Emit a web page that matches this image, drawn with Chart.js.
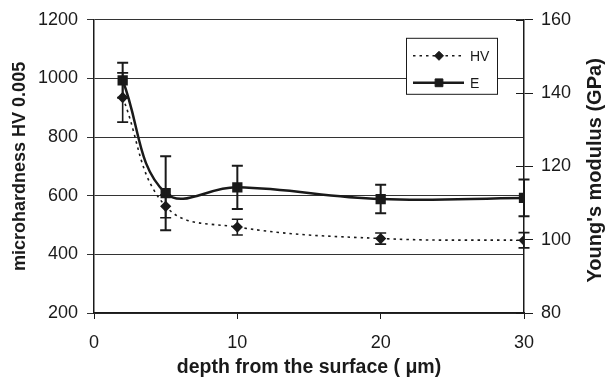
<!DOCTYPE html>
<html>
<head>
<meta charset="utf-8">
<script src="https://cdn.jsdelivr.net/npm/chart.js@4/dist/chart.umd.min.js"></script>
<style>
  html,body{margin:0;padding:0;background:#fff}
  #wrap{width:615px;height:382px}
</style>
</head>
<body>
<div id="wrap"><canvas id="c" width="615" height="382"></canvas></div>
<script>
// ── data ──────────────────────────────────────────────────────────────────
const depth    = [2, 5, 10, 20, 30];               // µm
const hv       = [935, 564, 493, 454, 448];        // HV 0.005
const hvErr    = [84, 39, 27, 19, 26];
const youngE   = [143.5, 112.7, 114.3, 111.1, 111.4]; // GPa
const youngErr = [4.8, 10.1, 5.9, 3.9, 5.0];

const xTitle     = 'depth from the surface ( μm)';
const leftTitle  = 'microhardness HV 0.005';
const rightTitle = "Young's modulus (GPa)";

const INK  = '#1a1a1a';
const GRID = '#333';
const FONT = "'Liberation Sans', Arial, sans-serif";

const pts = (ys)=>depth.map((x,i)=>({x, y:ys[i]}));

// error bars, drawn through the dataset's own axes
const errorBars = {
  id:'errorBars',
  afterDatasetsDraw(chart){
    const ctx=chart.ctx, xs=chart.scales.x;
    chart.data.datasets.forEach(ds=>{
      if(!ds.errors) return;
      const ys=chart.scales[ds.yAxisID];
      ctx.save();
      ctx.strokeStyle=INK; ctx.lineWidth=ds.errWidth; ctx.setLineDash([]);
      ds.data.forEach((p,i)=>{
        const e=ds.errors[i];
        const px=xs.getPixelForValue(p.x);
        const hi=ys.getPixelForValue(p.y+e), lo=ys.getPixelForValue(p.y-e);
        ctx.beginPath();
        ctx.moveTo(px,hi); ctx.lineTo(px,lo);
        ctx.moveTo(px-5.5,hi); ctx.lineTo(px+5.5,hi);
        ctx.moveTo(px-5.5,lo); ctx.lineTo(px+5.5,lo);
        ctx.stroke();
      });
      ctx.restore();
    });
  }
};

// right axis: ticks crossing the axis, title reading upwards, boxed legend
const extras = {
  id:'extras',
  afterDraw(chart){
    const ctx=chart.ctx, s=chart.scales.y1, a=chart.chartArea;
    ctx.save();
    ctx.strokeStyle=INK; ctx.lineWidth=1;
    s.ticks.forEach(t=>{
      const y=Math.round(s.getPixelForValue(t.value))+0.5;
      ctx.beginPath(); ctx.moveTo(s.left-8,y); ctx.lineTo(s.left,y); ctx.stroke();
    });
    // right title
    ctx.fillStyle=INK;
    ctx.font='bold 20px '+FONT;
    ctx.textAlign='center'; ctx.textBaseline='middle';
    ctx.translate(s.right-20,(a.top+a.bottom)/2+4);
    ctx.rotate(-Math.PI/2);
    ctx.fillText(rightTitle,0,0);
    ctx.restore();

    // legend box
    const bx=a.right-118, by=a.top+18, bw=91, bh=56;
    ctx.save();
    ctx.fillStyle='#fff'; ctx.fillRect(bx,by,bw,bh);
    ctx.strokeStyle=INK; ctx.lineWidth=1;
    ctx.strokeRect(bx+0.5,by+0.5,bw,bh);
    chart.data.datasets.forEach((ds,i)=>{
      const y=by+18+i*27;
      ctx.save();
      ctx.strokeStyle=ds.borderColor; ctx.lineWidth=ds.borderWidth;
      ctx.setLineDash(ds.borderDash||[]);
      ctx.beginPath(); ctx.moveTo(bx+7,y); ctx.lineTo(bx+58,y); ctx.stroke();
      ctx.restore();
      ctx.fillStyle=INK; ctx.strokeStyle=INK;
      Chart.helpers.drawPoint(ctx,{pointStyle:ds.pointStyle,radius:ds.pointRadius,rotation:0,borderWidth:1},bx+33,y);
      ctx.font='14px '+FONT;
      ctx.textAlign='left'; ctx.textBaseline='middle';
      ctx.fillText(ds.label,bx+64,y+1);
    });
    ctx.restore();
  }
};

const plain = v=>String(v);

new Chart(document.getElementById('c'),{
  type:'line',
  data:{datasets:[
    {label:'HV', data:pts(hv), errors:hvErr, errWidth:1.6, yAxisID:'y',
     borderColor:INK, borderWidth:1.6, borderDash:[2.5,4], tension:0.4,
     pointStyle:'rectRot', pointRadius:4.5, pointBackgroundColor:INK, pointBorderColor:INK, order:2},
    {label:'E', data:pts(youngE), errors:youngErr, errWidth:2, yAxisID:'y1',
     borderColor:INK, borderWidth:2.5, tension:0.4,
     pointStyle:'rect', pointRadius:5.5, pointBackgroundColor:INK, pointBorderColor:INK, order:1}
  ]},
  options:{
    responsive:false, animation:false, devicePixelRatio:1,
    layout:{padding:{top:16,left:0,right:0,bottom:0}},
    plugins:{legend:{display:false},tooltip:{enabled:false}},
    scales:{
      x:{type:'linear',min:0,max:30,
        afterFit:s=>{s.height=69;},
        ticks:{stepSize:10,color:INK,font:{family:FONT,size:18},padding:13,callback:plain},
        grid:{drawOnChartArea:false,tickLength:6,color:INK},
        border:{color:INK,width:1.5},
        title:{display:true,text:xTitle,color:INK,font:{family:FONT,size:19.5,weight:'bold'},padding:{bottom:3,top:0}}},
      y:{position:'left',min:200,max:1200,
        afterFit:s=>{s.width=94;},
        ticks:{stepSize:200,color:INK,font:{family:FONT,size:18},padding:9,callback:plain},
        grid:{color:GRID,lineWidth:1,tickLength:7},
        border:{color:INK,width:1.5},
        title:{display:true,text:leftTitle,color:INK,font:{family:FONT,size:18,weight:'bold'},padding:{top:9,bottom:0}}},
      y1:{position:'right',min:80,max:160,
        afterFit:s=>{s.width=91;},
        ticks:{stepSize:20,color:INK,font:{family:FONT,size:18},padding:8,callback:plain},
        grid:{drawOnChartArea:false,tickLength:9,color:INK},
        border:{color:INK,width:1.5}}
    }
  },
  plugins:[errorBars,extras]
});
</script>
</body>
</html>
